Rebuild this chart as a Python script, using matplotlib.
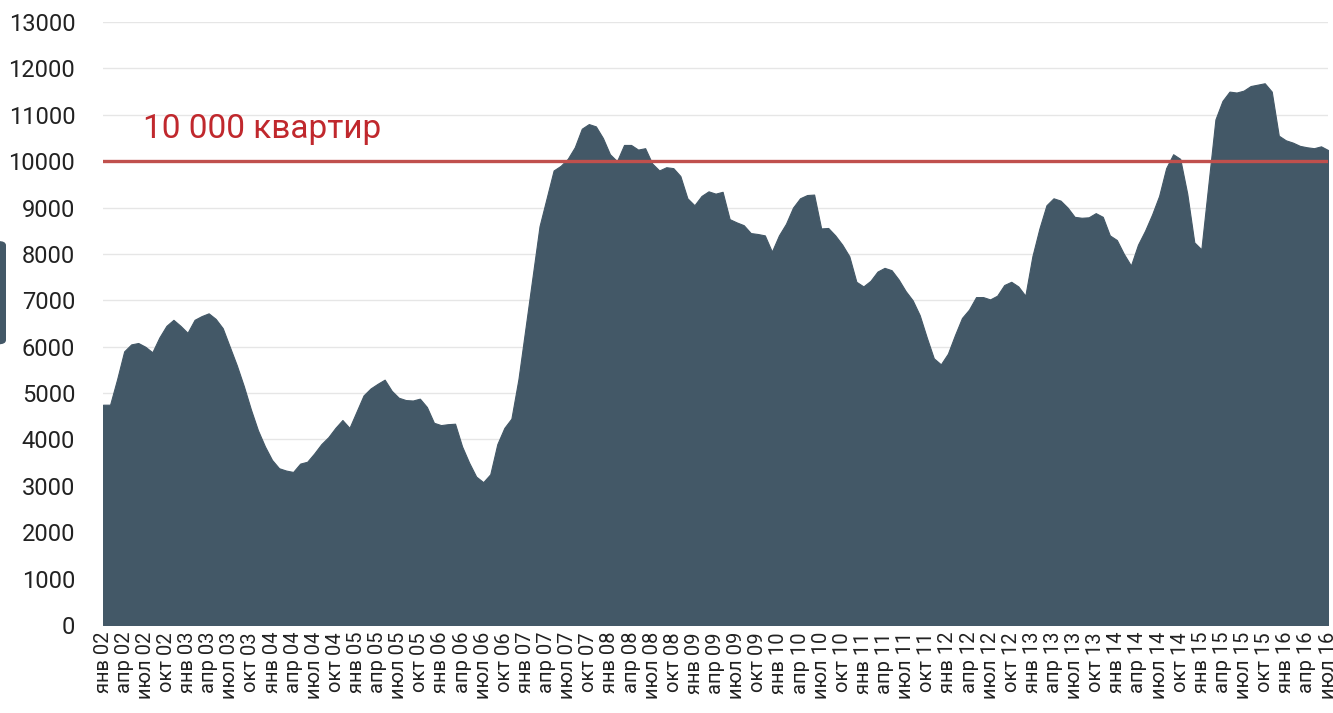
import matplotlib
matplotlib.use("Agg")
import matplotlib.pyplot as plt
from matplotlib.patches import FancyBboxPatch
import numpy as np

plt.rcParams['font.family'] = ['Roboto', 'DejaVu Sans']

months_ru = ["янв", "апр", "июл", "окт"]
start_year = 2002
n_months = 175  # янв 02 .. июл 16

values = [
    4750, 4750, 5300, 5900, 6050, 6080, 6000, 5880, 6200, 6450,
    6580, 6450, 6300, 6580, 6660, 6720, 6600, 6400, 6000, 5600,
    5150, 4650, 4200, 3850, 3560, 3380, 3330, 3300, 3480, 3520,
    3700, 3900, 4050, 4250, 4420, 4250, 4600, 4950, 5100, 5200,
    5290, 5050, 4900, 4850, 4840, 4880, 4700, 4360, 4310, 4330,
    4340, 3850, 3500, 3200, 3080, 3250, 3900, 4250, 4450, 5300,
    6400, 7500, 8600, 9200, 9800, 9900, 10050, 10300, 10700, 10800,
    10750, 10500, 10150, 10000, 10350, 10350, 10250, 10280, 9950, 9800,
    9870, 9850, 9680, 9200, 9050, 9250, 9350, 9300, 9340, 8750,
    8680, 8620, 8450, 8430, 8400, 8050, 8400, 8650, 9000, 9200,
    9270, 9280, 8550, 8560, 8400, 8200, 7950, 7400, 7300, 7420,
    7620, 7700, 7650, 7450, 7200, 7000, 6680, 6200, 5750, 5620,
    5850, 6250, 6620, 6800, 7070, 7070, 7020, 7100, 7330, 7400,
    7300, 7100, 7950, 8550, 9050, 9200, 9150, 9000, 8800, 8780,
    8790, 8880, 8800, 8400, 8300, 8000, 7750, 8200, 8500, 8850,
    9250, 9850, 10150, 10050, 9300, 8250, 8100, 9500, 10900, 11300,
    11500, 11480, 11520, 11620, 11650, 11680, 11500, 10550, 10450, 10400,
    10330, 10300, 10280, 10320, 10240,
]
threshold = 10000
threshold_label = "10 000 квартир"
y_ticks = list(range(0, 13001, 1000))

x = np.arange(len(values))
tick_pos = list(range(0, n_months, 3))
tick_labels = [f"{months_ru[(p % 12) // 3]} {(start_year + p // 12) % 100:02d}" for p in tick_pos]

fig = plt.figure(figsize=(13.33, 7.13), dpi=100)
ax = fig.add_axes([0.0773, 0.1234, 0.9190, 0.8457])

fill_color = "#435867"
ax.fill_between(x, values, 0, color=fill_color, linewidth=0.8, edgecolor=fill_color, zorder=2)
ax.axhline(threshold, color="#c0504d", linewidth=2.4, zorder=3)
ax.text(5.7, 10690, threshold_label, color="#c0282d", fontsize=24, va="center", ha="left", zorder=4)

ax.set_xlim(0, n_months - 1)
ax.set_ylim(0, 13000)
ax.set_yticks(y_ticks)
ax.set_yticklabels([str(v) for v in y_ticks], fontsize=17, color="#222222")
ax.set_xticks(tick_pos)
ax.set_xticklabels(tick_labels, rotation=90, fontsize=14.5, color="#222222")
ax.tick_params(axis="x", length=0, pad=5)
ax.tick_params(axis="y", length=0, pad=20)
ax.grid(axis="y", color="#e6e6e6", linewidth=1.0, zorder=0)
ax.set_axisbelow(True)
for s in ax.spines.values():
    s.set_visible(False)

# partial element at left edge
fig.patches.append(FancyBboxPatch((-0.01, 0.517), 0.0145, 0.145, boxstyle="round,pad=0,rounding_size=0.006",
                                  transform=fig.transFigure, facecolor=fill_color, edgecolor="none"))

fig.savefig("out.png", dpi=100)
